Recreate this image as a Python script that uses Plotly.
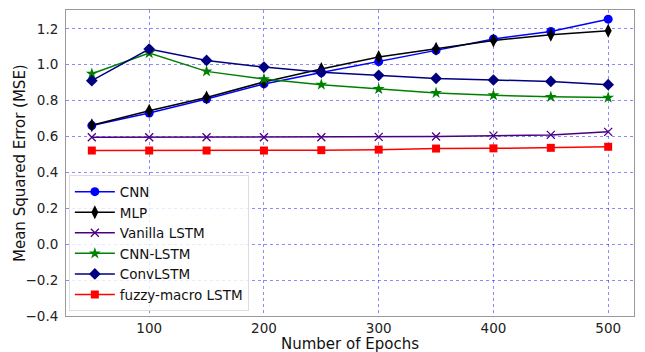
import plotly.graph_objects as go

epochs = [50, 100, 150, 200, 250, 300, 350, 400, 450, 500]
cnn = [0.661, 0.731, 0.809, 0.893, 0.957, 1.017, 1.080, 1.144, 1.185, 1.254]
mlp = [0.663, 0.744, 0.818, 0.904, 0.976, 1.043, 1.089, 1.135, 1.167, 1.189]
vanilla = [0.596, 0.596, 0.596, 0.596, 0.596, 0.598, 0.600, 0.605, 0.609, 0.626]
cnn_lstm = [0.950, 1.065, 0.963, 0.920, 0.889, 0.865, 0.843, 0.830, 0.821, 0.817]
convlstm = [0.911, 1.087, 1.024, 0.987, 0.958, 0.941, 0.924, 0.915, 0.907, 0.889]
fuzzy = [0.522, 0.522, 0.522, 0.522, 0.524, 0.527, 0.533, 0.534, 0.537, 0.543]

series = [
    ("CNN", cnn, "#0000ff", "circle", 9),
    ("MLP", mlp, "#000000", "diamond-tall", 10),
    ("Vanilla LSTM", vanilla, "#4b0082", "x-thin-open", 8),
    ("CNN-LSTM", cnn_lstm, "#008000", "star", 9),
    ("ConvLSTM", convlstm, "#000080", "diamond", 9),
    ("fuzzy-macro LSTM", fuzzy, "#ff0000", "square", 8),
]

fig = go.Figure()
for name, vals, col, sym, sz in series:
    fig.add_trace(go.Scatter(
        x=epochs, y=vals, name=name, mode="lines+markers",
        line=dict(color=col, width=1.5),
        marker=dict(symbol=sym, size=sz, color=col,
                    line=dict(color=col, width=1.3 if sym == "x-thin-open" else 0)),
    ))

axis_common = dict(
    showline=True, linecolor="#999999", linewidth=1, mirror=True,
    showgrid=True, gridcolor="rgba(0,0,255,0.45)", griddash="dot", gridwidth=1,
    zeroline=False, ticks="", automargin=False,
    tickfont=dict(family="DejaVu Sans", size=13.5, color="#222222"),
)

fig.update_layout(
    width=645, height=352,
    margin=dict(l=66, r=11, t=10, b=36),
    paper_bgcolor="white", plot_bgcolor="white",
    font=dict(family="DejaVu Sans", color="#111111"),
    xaxis=dict(range=[27.5, 522.5], tickvals=[100, 200, 300, 400, 500],
               ticklabelstandoff=0, **axis_common),
    yaxis=dict(range=[-0.4, 1.305], tickvals=[-0.4, -0.2, 0.0, 0.2, 0.4, 0.6, 0.8, 1.0, 1.2],
               tickformat=".1f", ticklabelstandoff=4, **axis_common),
    legend=dict(x=0.005, y=0.015, xanchor="left", yanchor="bottom",
                bgcolor="rgba(255,255,255,0.8)", bordercolor="#dddddd", borderwidth=1,
                font=dict(family="DejaVu Sans", size=13.5, color="#111111"),
                tracegroupgap=0, itemsizing="trace", itemwidth=40),
    showlegend=True,
    annotations=[
        dict(text="Number of Epochs", xref="paper", yref="paper", x=0.5, y=-0.09,
             xanchor="center", yanchor="middle", showarrow=False,
             font=dict(family="DejaVu Sans", size=15, color="#111111")),
        dict(text="Mean Squared Error (MSE)", xref="paper", yref="paper", x=-46 / 568, y=0.5,
             xanchor="center", yanchor="middle", showarrow=False, textangle=-90,
             font=dict(family="DejaVu Sans", size=15, color="#111111")),
    ],
)

fig.write_html("out.html")
